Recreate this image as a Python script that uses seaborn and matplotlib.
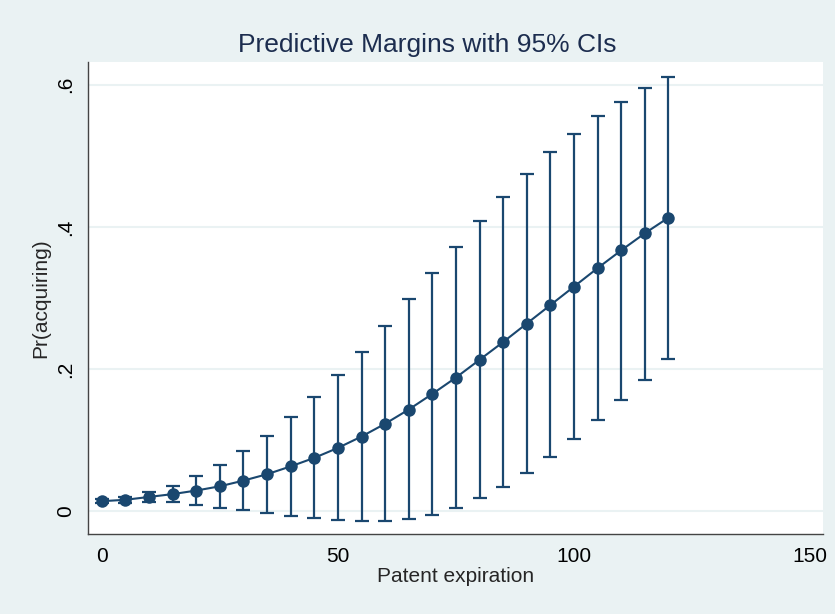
"""Predictive margins plot (Stata style)"""
import numpy as np
import pandas as pd
import matplotlib
matplotlib.use("Agg")
import matplotlib.pyplot as plt
import seaborn as sns

# data
patent_exp = [0, 5, 10, 15, 20, 25, 30, 35, 40, 45, 50, 55, 60,
              65, 70, 75, 80, 85, 90, 95, 100, 105, 110, 115, 120]
margin = [0.014, 0.016, 0.020, 0.024, 0.029, 0.035, 0.043, 0.052, 0.063,
          0.075, 0.089, 0.105, 0.123, 0.143, 0.165, 0.188, 0.213, 0.238,
          0.264, 0.290, 0.316, 0.342, 0.367, 0.391, 0.413]
ci_low = [0.011, 0.012, 0.013, 0.013, 0.009, 0.005, 0.001, -0.003, -0.007,
          -0.010, -0.013, -0.014, -0.014, -0.011, -0.005, 0.005, 0.018,
          0.034, 0.053, 0.076, 0.101, 0.128, 0.156, 0.185, 0.214]
ci_high = [0.017, 0.020, 0.027, 0.035, 0.049, 0.065, 0.084, 0.106, 0.132,
           0.160, 0.191, 0.224, 0.260, 0.298, 0.335, 0.372, 0.408, 0.442,
           0.475, 0.505, 0.531, 0.556, 0.576, 0.595, 0.611]
y_ticks = [0, 0.2, 0.4, 0.6]
y_ticklabels = ["0", ".2", ".4", ".6"]
x_ticks = [0, 50, 100, 150]

navy = "#1A476F"
bg = "#EAF2F3"

sns.set_style("white")
plt.rcParams['font.family'] = ['Liberation Sans', 'DejaVu Sans']

df = pd.DataFrame({"x": patent_exp, "y": margin, "lo": ci_low, "hi": ci_high})

fig = plt.figure(figsize=(8.35, 6.14), dpi=100, facecolor=bg)
ax = fig.add_axes([0.105, 0.130, 0.881, 0.769])
ax.set_facecolor("white")

# confidence intervals
ax.errorbar(df["x"], df["y"], yerr=[df["y"] - df["lo"], df["hi"] - df["y"]],
            fmt="none", ecolor=navy, elinewidth=1.6, capsize=5, capthick=1.6, zorder=2)
sns.lineplot(data=df, x="x", y="y", ax=ax, color=navy, linewidth=1.5,
             marker="o", markersize=9, markeredgewidth=0, zorder=3)

ax.set_xlim(-3, 152.8)
ax.set_ylim(-0.0324, 0.632)
ax.set_xticks(x_ticks)
ax.set_yticks(y_ticks)
ax.set_yticklabels(y_ticklabels, rotation=90, va="center")
ax.yaxis.grid(True, color=bg, linewidth=1.5)
ax.set_axisbelow(True)

for s in ["top", "right"]:
    ax.spines[s].set_visible(False)
for s in ["left", "bottom"]:
    ax.spines[s].set_color("#444444")
    ax.spines[s].set_linewidth(1.0)
ax.tick_params(axis="both", direction="out", length=5, width=1.0, color="#444444",
               labelsize=15, labelcolor="black", pad=4)

ax.set_xlabel("Patent expiration", fontsize=15, labelpad=1)
ax.set_ylabel("Pr(acquiring)", fontsize=15, labelpad=4)
fig.text(0.512, 0.927, "Predictive Margins with 95% CIs", fontsize=19,
         color="#1C2D4F", ha="center", va="center")

fig.savefig("out.png", dpi=100, facecolor=bg)
